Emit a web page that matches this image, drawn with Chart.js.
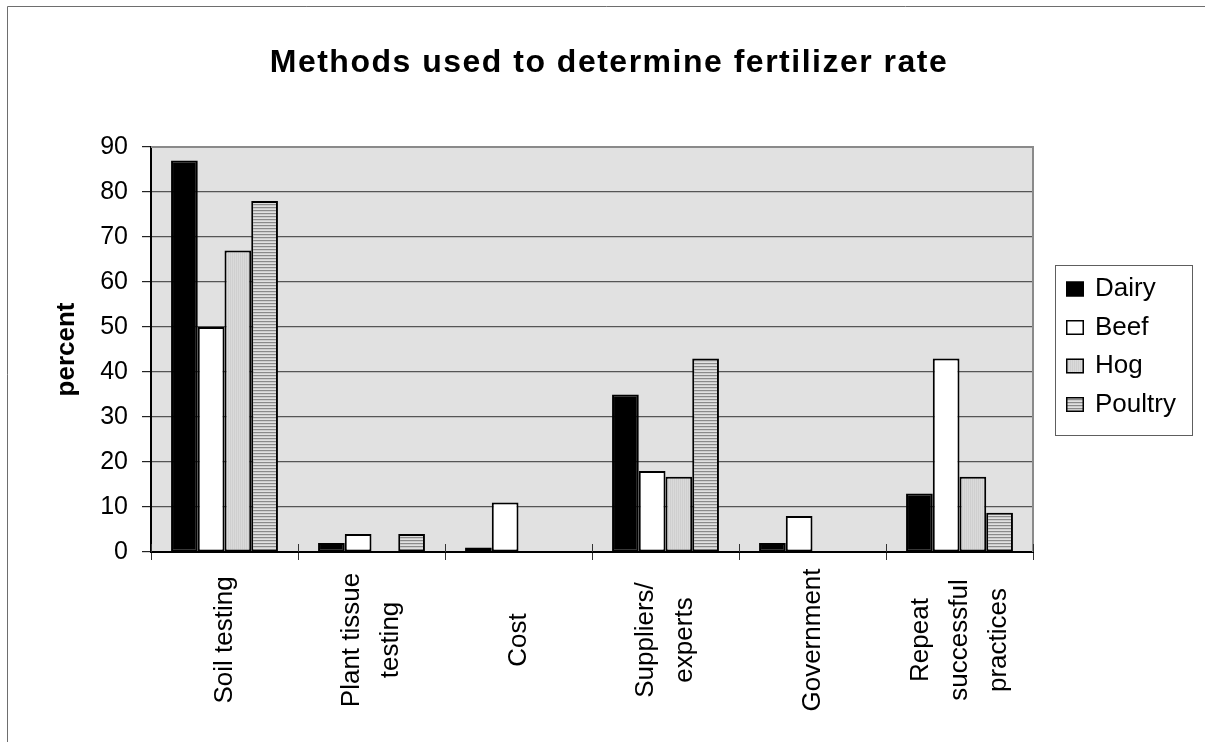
<!DOCTYPE html>
<html>
<head>
<meta charset="utf-8">
<script src="https://cdn.jsdelivr.net/npm/chart.js@4.4.1/dist/chart.umd.min.js"></script>
<style>
  html, body { margin: 0; padding: 0; background: #fff; }
  #wrap { width: 1205px; height: 742px; position: relative; }
</style>
</head>
<body>
<div id="wrap"><canvas id="chart"></canvas></div>
<script>
// ---- data ----
const categories = [
  ['Soil testing'],
  ['Plant tissue', 'testing'],
  ['Cost'],
  ['Suppliers/', 'experts'],
  ['Government'],
  ['Repeat', 'successful', 'practices']
];
const seriesNames = ['Dairy', 'Beef', 'Hog', 'Poultry'];
const dairyValues   = [87, 2, 1, 35, 2, 13];
const beefValues    = [50, 4, 11, 18, 8, 43];
const hogValues     = [67, 0, 0, 16.7, 0, 16.7];
const poultryValues = [78, 4, 0, 43, 0, 8.7];
const yTickValues = [0, 10, 20, 30, 40, 50, 60, 70, 80, 90];
const chartTitle = 'Methods used to determine fertilizer rate';
const yAxisTitle = 'percent';

const FONT = "'Liberation Sans', Arial, Helvetica, sans-serif";

// ---- fill patterns ----
function makePattern(w, h, paint) {
  const c = document.createElement('canvas');
  c.width = w; c.height = h;
  const g = c.getContext('2d');
  paint(g);
  return g.createPattern(c, 'repeat');
}
// fine vertical stripes, light grey
const hogFill = makePattern(2, 1, g => {
  g.fillStyle = '#cfcfcf'; g.fillRect(0, 0, 1, 1);
  g.fillStyle = '#dadada'; g.fillRect(1, 0, 1, 1);
});
// horizontal stripes
const poultryFill = makePattern(1, 3, g => {
  g.fillStyle = '#8a8a8a'; g.fillRect(0, 0, 1, 1);
  g.fillStyle = '#cdcdcd'; g.fillRect(0, 1, 1, 1);
  g.fillStyle = '#e0e0e0'; g.fillRect(0, 2, 1, 1);
});

const seriesValues = [dairyValues, beefValues, hogValues, poultryValues];
const seriesFills = ['#000000', '#ffffff', hogFill, poultryFill];

const datasets = seriesNames.map((name, i) => ({
  label: name,
  data: seriesValues[i],
  backgroundColor: seriesFills[i],
  borderColor: '#000',
  borderWidth: 2,
  borderSkipped: false,
  categoryPercentage: 4 / 5.5,
  barPercentage: 1.0
}));

// ---- decorations: frame, plot background, title, category labels, legend ----
const decor = {
  id: 'decor',
  beforeDraw(chart) {
    const { ctx, chartArea: a } = chart;
    ctx.save();
    ctx.fillStyle = '#fff';
    ctx.fillRect(0, 0, chart.width, chart.height);
    ctx.strokeStyle = '#6e6e6e';
    ctx.lineWidth = 1;
    ctx.beginPath();
    ctx.moveTo(7.5, chart.height);
    ctx.lineTo(7.5, 6.5);
    ctx.lineTo(chart.width, 6.5);
    ctx.stroke();
    ctx.fillStyle = '#e1e1e1';
    ctx.fillRect(a.left, a.top, a.right - a.left, a.bottom - a.top);
    ctx.restore();
  },
  beforeDatasetsDraw(chart) {
    const { ctx, chartArea: a, scales: { x } } = chart;
    ctx.save();
    ctx.strokeStyle = '#8a8a8a';
    ctx.lineWidth = 2;
    ctx.beginPath();
    ctx.moveTo(a.left, a.top);
    ctx.lineTo(a.right, a.top);
    ctx.lineTo(a.right, a.bottom);
    ctx.stroke();
    // category divider marks reach a little into the plot
    ctx.strokeStyle = '#333';
    ctx.lineWidth = 1;
    for (let i = 0; i <= chart.data.labels.length; i++) {
      const px = Math.round(x.getPixelForValue(i - 0.5)) + 0.5;
      ctx.beginPath();
      ctx.moveTo(px, a.bottom - 8);
      ctx.lineTo(px, a.bottom);
      ctx.stroke();
    }
    ctx.restore();
  },
  afterDraw(chart) {
    const { ctx, scales: { x } } = chart;
    ctx.save();

    // title
    ctx.fillStyle = '#000';
    ctx.font = 'bold 32px ' + FONT;
    ctx.textAlign = 'center';
    ctx.textBaseline = 'alphabetic';
    if ('letterSpacing' in ctx) ctx.letterSpacing = '1.5px';
    ctx.fillText(chartTitle, 609, 72);
    if ('letterSpacing' in ctx) ctx.letterSpacing = '0px';

    // category labels, rotated, lines centred
    ctx.font = '26px ' + FONT;
    ctx.textAlign = 'center';
    ctx.textBaseline = 'middle';
    const lineStep = 39;
    chart.data.labels.forEach((lines, i) => {
      const cx = x.getPixelForValue(i);
      ctx.save();
      ctx.translate(cx, 640);
      ctx.rotate(-Math.PI / 2);
      lines.forEach((t, j) => {
        ctx.fillText(t, 0, (j - (lines.length - 1) / 2) * lineStep);
      });
      ctx.restore();
    });

    // legend
    ctx.strokeStyle = '#5e5e5e';
    ctx.lineWidth = 1;
    ctx.strokeRect(1055.5, 265.5, 137, 170);
    ctx.font = '26px ' + FONT;
    ctx.textAlign = 'left';
    ctx.textBaseline = 'middle';
    chart.data.datasets.forEach((ds, i) => {
      const cy = 289 + i * 38.5;
      ctx.fillStyle = ds.backgroundColor;
      ctx.fillRect(1066, cy - 7.5, 18, 15);
      ctx.strokeStyle = '#000';
      ctx.lineWidth = 1.5;
      ctx.strokeRect(1066.75, cy - 6.75, 16.5, 13.5);
      ctx.fillStyle = '#000';
      ctx.fillText(ds.label, 1095, cy);
    });
    ctx.restore();
  }
};

new Chart(document.getElementById('chart'), {
  type: 'bar',
  data: { labels: categories, datasets },
  options: {
    responsive: true,
    maintainAspectRatio: false,
    animation: false,
    events: [],
    layout: { padding: { top: 147, right: 172, bottom: 0, left: 0 } },
    plugins: {
      legend: { display: false },
      title: { display: false },
      tooltip: { enabled: false }
    },
    scales: {
      x: {
        grid: { offset: true, drawOnChartArea: false, drawTicks: true, tickLength: 8, color: '#333', lineWidth: 1 },
        border: { display: true, color: '#000', width: 2 },
        ticks: { display: false },
        afterFit(s) { s.height = 190; }
      },
      y: {
        min: yTickValues[0],
        max: yTickValues[yTickValues.length - 1],
        afterBuildTicks(s) { s.ticks = yTickValues.map(v => ({ value: v })); },
        grid: { color: '#555', lineWidth: 1.2, tickLength: 9, tickColor: '#222' },
        border: { display: true, color: '#000', width: 2 },
        ticks: { color: '#000', font: { family: FONT, size: 25 }, padding: 14 },
        title: {
          display: true,
          text: yAxisTitle,
          color: '#000',
          font: { family: FONT, size: 26, weight: 'bold' },
          padding: { top: 51, bottom: 0 }
        },
        afterFit(s) { s.width = 151; }
      }
    }
  },
  plugins: [decor]
});
</script>
</body>
</html>
